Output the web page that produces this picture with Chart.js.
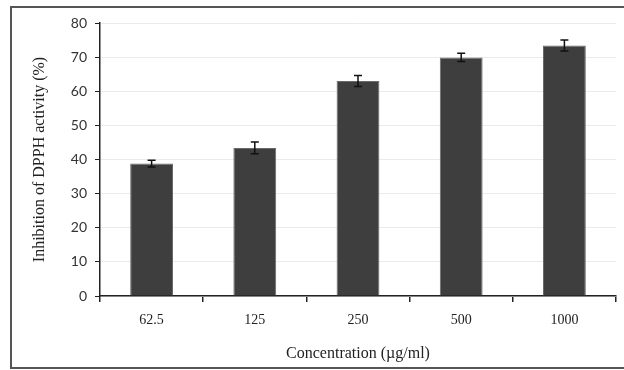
<!DOCTYPE html>
<html>
<head>
<meta charset="utf-8">
<script src="https://cdn.jsdelivr.net/npm/chart.js@4/dist/chart.umd.min.js"></script>
<style>
  html, body { margin: 0; padding: 0; background: #fff; overflow: hidden; }
  #wrap { position: relative; width: 624px; height: 370px; }
  #frame { position: absolute; left: 10px; top: 6px; width: 640px; height: 363px; border: 2px solid #555; box-sizing: border-box; }
  canvas { position: absolute; left: 0; top: 0; }
</style>
</head>
<body>
<div id="wrap">
  <div id="frame"></div>
  <canvas id="chart" width="624" height="370"></canvas>
</div>
<script>
const concentrations = ["62.5", "125", "250", "500", "1000"];
const inhibition = [38.8, 43.4, 63.0, 69.9, 73.4];
const errors = [1.0, 1.7, 1.6, 1.2, 1.6];
const yTicks = [0, 10, 20, 30, 40, 50, 60, 70, 80];

// draws the +/- error bars on top of each bar
const errorBars = {
  id: "errorBars",
  afterDatasetsDraw(chart) {
    const meta = chart.getDatasetMeta(0);
    const y = chart.scales.y;
    const ctx = chart.ctx;
    ctx.save();
    ctx.strokeStyle = "#111";
    ctx.lineWidth = 1.5;
    meta.data.forEach((bar, i) => {
      const top = y.getPixelForValue(inhibition[i] + errors[i]);
      const bot = y.getPixelForValue(inhibition[i] - errors[i]);
      ctx.beginPath();
      ctx.moveTo(bar.x, top); ctx.lineTo(bar.x, bot);
      ctx.moveTo(bar.x - 4, top); ctx.lineTo(bar.x + 4, top);
      ctx.moveTo(bar.x - 4, bot); ctx.lineTo(bar.x + 4, bot);
      ctx.stroke();
    });
    ctx.restore();
  }
};

new Chart(document.getElementById("chart"), {
  type: "bar",
  data: {
    labels: concentrations,
    datasets: [{
      data: inhibition,
      backgroundColor: "#3e3e3e",
      borderColor: "#6a6a6a",
      borderWidth: 1,
      categoryPercentage: 1,
      barPercentage: 0.415
    }]
  },
  options: {
    responsive: false,
    animation: false,
    layout: { padding: { left: 20, right: 8, top: 23, bottom: 0 } },
    plugins: { legend: { display: false }, tooltip: { enabled: false } },
    scales: {
      x: {
        afterFit(s) { s.height = 74; },
        grid: { drawOnChartArea: false, tickLength: 6, tickColor: "#222", offset: true, lineWidth: 1.5 },
        border: { color: "#222", width: 1.5 },
        ticks: { color: "#222", padding: 10, font: { family: "Liberation Serif", size: 14 } },
        title: {
          display: true,
          text: "Concentration (µg/ml)",
          color: "#222",
          padding: { bottom: 7, top: 0 },
          font: { family: "Liberation Serif", size: 16 }
        }
      },
      y: {
        min: 0,
        max: 80,
        afterFit(s) { s.width = 80; },
        afterBuildTicks(s) { s.ticks = yTicks.map(v => ({ value: v })); },
        grid: { color: "#ebebeb", tickColor: "#222", tickLength: 5 },
        border: { color: "#222", width: 1.5 },
        ticks: { color: "#333", padding: 8, font: { family: "Lato", size: 14 } },
        title: {
          display: true,
          text: "Inhibition of DPPH activity (%)",
          color: "#222",
          padding: { top: 10, bottom: 0 },
          font: { family: "Liberation Serif", size: 16 }
        }
      }
    }
  },
  plugins: [errorBars]
});
</script>
</body>
</html>
